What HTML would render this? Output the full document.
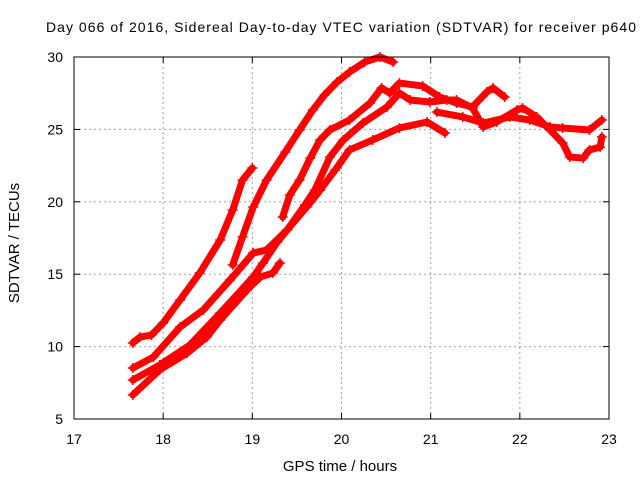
<!DOCTYPE html>
<html><head><meta charset="utf-8"><style>
body{margin:0;background:#fff;}
svg{display:block;font-family:"Liberation Sans",sans-serif;}
</style></head><body>
<svg id="chart" width="640" height="480">
<text x="46" y="32" font-size="14" textLength="590" fill="#000">Day 066 of 2016, Sidereal Day-to-day VTEC variation (SDTVAR) for receiver p640</text>
<g id="grid"></g><g id="series"></g><g id="axes"></g>
<text x="340" y="471" font-size="15" text-anchor="middle">GPS time / hours</text>
<text x="0" y="0" font-size="15" text-anchor="middle" transform="translate(19,243) rotate(-90)">SDTVAR / TECUs</text>
</svg>
<script>
const xTicks=[17,18,19,20,21,22,23];
const yTicks=[5,10,15,20,25,30];
const sA_t=[17.66,17.74,17.87,18.00,18.19,18.41,18.64,18.78,18.89,19.00];
const sA_v=[10.25,10.66,10.80,11.63,13.22,15.08,17.36,19.43,21.5,22.33];
const sB_t=[18.78,18.89,19.01,19.16,19.37,19.53,19.68,19.81,19.95,20.09,20.26,20.43,20.58];
const sB_v=[15.64,17.57,19.64,21.5,23.44,24.96,26.35,27.38,28.27,28.96,29.65,30.0,29.65];
const sC_t=[19.34,19.42,19.53,19.65,19.76,19.87,20.09,20.32,20.45,20.54,20.65,20.91,21.10,21.29];
const sC_v=[18.95,20.47,21.5,23.02,24.27,24.96,25.65,26.82,27.86,27.51,28.2,28.0,27.24,26.82];
const sH_t=[21.29,21.47,21.63,21.70,21.83];
const sH_v=[26.82,26.55,27.58,27.86,27.24];
const sI_t=[21.07,21.36,21.59,21.89,22.11,22.34,22.48,22.78,22.92];
const sI_v=[26.2,25.86,25.44,25.86,25.65,25.17,25.1,24.96,25.65];
const sD_t=[17.66,17.89,18.19,18.45,18.75,19.01,19.16,19.39,19.61,19.76,19.93,20.09,20.35,20.65,20.96,21.16];
const sD_v=[8.52,9.28,11.35,12.53,14.6,16.46,16.67,18.05,19.64,20.8,22.2,23.58,24.27,25.1,25.51,24.75];
const sG_t=[17.66,17.96,18.30,18.64,19.01,19.12,19.28,19.39,19.59,19.70,19.87,20.02,20.24,20.51,20.65,20.77,20.99,21.18,21.29,21.47,21.59,21.74,21.97,22.03,22.19,22.34,22.48,22.56,22.71,22.78,22.90,22.92];
const sG_v=[7.69,8.73,10.11,12.32,14.81,15.77,17.22,18.05,19.78,20.8,23.09,24.27,25.44,26.55,27.51,27.03,26.89,27.03,27.03,26.48,25.17,25.51,26.35,26.48,25.86,24.96,24.06,23.09,23.02,23.58,23.78,24.48];
const sF_t=[17.66,17.96,18.27,18.49,18.64,18.94,19.09,19.23,19.31];
const sF_v=[6.66,8.38,9.56,10.66,11.84,13.91,14.81,15.08,15.77];
const series=[[sA_t,sA_v,'series-a'],[sB_t,sB_v,'series-b'],[sC_t,sC_v,'series-c'],[sH_t,sH_v,'series-h'],[sI_t,sI_v,'series-i'],[sD_t,sD_v,'series-d'],[sG_t,sG_v,'series-g'],[sF_t,sF_v,'series-f']];
const L=74,R=609,T=57,B=419;
const X=t=>L+(t-17)/6*(R-L), Y=v=>B-(v-5)/25*(B-T);
const NS='http://www.w3.org/2000/svg';
function mk(tag,par,at){const e=document.createElementNS(NS,tag);for(const k in at)e.setAttribute(k,at[k]);par.appendChild(e);return e;}
const grid=document.getElementById('grid'),axes=document.getElementById('axes'),sg=document.getElementById('series');
xTicks.forEach(t=>{const x=X(t);
 if(t>17&&t<23){const g=mk('line',grid,{x1:x,x2:x,y1:T,y2:B,stroke:'#a0a0a0','stroke-dasharray':'2,3'});
 
 }
 mk('line',axes,{x1:x,x2:x,y1:B,y2:B-6,stroke:'#000'});mk('line',axes,{x1:x,x2:x,y1:T,y2:T+6,stroke:'#000'});
 const lb=mk('text',axes,{x:x,y:B+25,'font-size':14,'text-anchor':'middle'});lb.textContent=t;
 
 });
yTicks.forEach(v=>{const y=Y(v);
 if(v>5&&v<30){const g=mk('line',grid,{x1:L,x2:R,y1:y,y2:y,stroke:'#a0a0a0','stroke-dasharray':'2,3'});
 
 }
 mk('line',axes,{x1:L,x2:L+6,y1:y,y2:y,stroke:'#000'});mk('line',axes,{x1:R,x2:R-6,y1:y,y2:y,stroke:'#000'});
 const lb=mk('text',axes,{x:L-11,y:y+5,'font-size':14,'text-anchor':'end'});lb.textContent=v;
 
 });
const fr=mk('rect',axes,{x:L,y:T,width:R-L,height:B-T,fill:'none',stroke:'#000','stroke-width':1});


series.forEach(([ts,vs,name])=>{
 const g=mk('g',sg,{});
 
 
 const pts=ts.map((t,i)=>X(t)+','+Y(vs[i])).join(' ');
 mk('polyline',g,{points:pts,fill:'none',stroke:'#f00','stroke-width':7,'stroke-linejoin':'round','stroke-linecap':'round'});
 ts.forEach((t,i)=>{const x=X(t),y=Y(vs[i]);
  mk('path',g,{d:`M${x-5},${y}h10M${x},${y-5}v10`,stroke:'#f00','stroke-width':1.5});});
});
</script>
</body></html>
